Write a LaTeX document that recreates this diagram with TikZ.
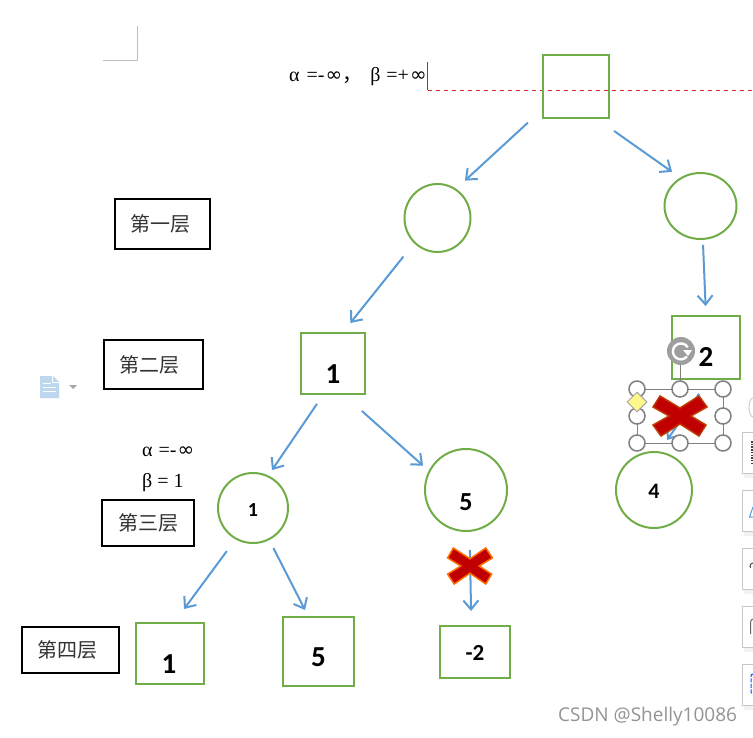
\documentclass[tikz,border=0pt]{standalone}
\usepackage{fontspec}
\setmainfont{Liberation Serif}
\newfontfamily\cjk{Noto Sans CJK SC}
\newfontfamily\numf{Carlito}[BoldFont=Carlito Bold]
\newfontfamily\wm{Open Sans}
\newfontfamily\dv{DejaVu Sans}
\usetikzlibrary{arrows.meta,shapes.geometric}
\definecolor{ngreen}{HTML}{70AD47}
\definecolor{nblue}{HTML}{5B9BD5}
\definecolor{xred}{HTML}{C00000}
\definecolor{hgray}{HTML}{808080}
\tikzset{
  sq/.style={draw=ngreen,line width=2pt,rectangle,inner sep=0pt,outer sep=0pt},
  cir/.style={draw=ngreen,line width=2pt,ellipse,inner sep=0pt,outer sep=0pt},
  lay/.style={draw=black,line width=2pt,rectangle,inner sep=0pt,outer sep=0pt,text=black!80,font=\cjk\fontsize{20}{20}\selectfont},
  arr/.style={draw=nblue,line width=2pt,-{Straight Barb[length=9pt,width=15pt,line width=2pt]}},
  handle/.style={draw=hgray,line width=1.5pt,fill=white,circle,minimum size=16pt,inner sep=0pt,outer sep=0pt},
  tool/.style={draw=black!22,line width=1pt,fill=white},
  mathtxt/.style={font=\fontsize{20}{20}\selectfont,inner sep=0pt,anchor=west},
  num/.style={font=\numf\bfseries\fontsize{#1}{#1}\selectfont,inner sep=0pt}
}
\newcommand{\infy}{{\dv ∞}}
\newcommand{\bigx}[5]{%
  \fill[xred,draw=#5,line width=1.5pt,shift={(#1,#2)},xscale=#3,yscale=#4]
   (-27,-9)--(-20,-20)--(0,-8)--(19,-20)--(27,-9)--(11,0)--(26,9)--(19,20)--(0,8)--(-19,20)--(-27,9)--(-11,0)--cycle;}
\begin{document}
\begin{tikzpicture}[x=1pt,y=-1pt]
\useasboundingbox (0,0) rectangle (753,738);
\fill[white] (0,0) rectangle (753,738);
% page corner and cursor
\draw[black!25,line width=1pt] (103,60.5)--(137.5,60.5)--(137.5,26);
\draw[red!70!black!85,line width=1pt] (427.5,62)--(427.5,90.5);
\draw[red!80!black!85,line width=1pt,dash pattern=on 4pt off 4pt] (428,90.5)--(753,90.5);
% text
\node[mathtxt] (t1) at (289,77) {α\hspace{7pt}=-\hspace{1pt}\infy{\cjk ，}\hspace{8pt}β\hspace{6pt}=+\hspace{1pt}\infy};
\node[mathtxt] (t2) at (142,452) {α\hspace{6pt}=-\hspace{1pt}\infy};
\node[mathtxt] (t3) at (142,483) {β = 1};
% tree nodes
\node[sq,minimum width=66pt,minimum height=63pt] (root) at (576,86.5) {};
\node[cir,minimum width=66pt,minimum height=68pt] (c1) at (437.5,218) {};
\node[cir,minimum width=72pt,minimum height=66pt] (c2) at (700.5,206) {};
\node[sq,minimum width=64pt,minimum height=61pt,label={[num=29,yshift=-10.5pt]center:1}] (r1) at (333,363.5) {};
\node[sq,minimum width=68pt,minimum height=63pt,label={[num=29,yshift=-9.5pt]center:2}] (r2) at (706,347.5) {};
\node[cir,minimum width=70pt,minimum height=70pt,label={[num=20,yshift=-2pt]center:1}] (c3) at (253,508) {};
\node[cir,minimum width=82pt,minimum height=82pt,label={[num=26,yshift=-12pt]center:5}] (c5) at (466,490) {};
\node[cir,minimum width=76pt,minimum height=76pt,label={[num=22,yshift=-1.5pt]center:4}] (c4) at (654,490) {};
\node[sq,minimum width=68pt,minimum height=61pt,label={[num=29,xshift=-1pt,yshift=-10.5pt]center:1}] (s1) at (170,653.5) {};
\node[sq,minimum width=71pt,minimum height=69pt,label={[num=29,yshift=-5.5pt]center:5}] (s2) at (318.5,651.5) {};
\node[sq,minimum width=70pt,minimum height=52pt,label={[num=23,yshift=-1pt]center:-2}] (s3) at (475,652) {};
% layer labels
\node[lay,minimum width=95pt,minimum height=50pt] (l1) at (162.5,224) {第一层\hspace*{5pt}};
\node[lay,minimum width=99pt,minimum height=49pt] (l2) at (153.5,364.5) {第二层\hspace*{8pt}};
\node[lay,minimum width=92pt,minimum height=46pt] (l3) at (148,523) {第三层};
\node[lay,minimum width=97pt,minimum height=46pt] (l4) at (70.5,650) {第四层\hspace*{6pt}};
% connectors
\draw[arr,shorten <=20.5pt,shorten >=13pt] (root.214) -- (c1.58);
\draw[arr,shorten <=22.5pt,shorten >=11pt] (root.-58) -- (c2.125);
\draw[arr,shorten <=18pt,shorten >=12.8pt] (c1.227) -- (r1.73.6);
\draw[arr,shorten <=6pt,shorten >=10pt] (c2.-86) -- (r2.90);
\draw[arr,shorten <=12pt,shorten >=7.5pt] (r1.253) -- (c3.65);
\draw[arr,shorten <=25.4pt,shorten >=8.5pt] (r1.-72) -- (c5.153.6);
\draw[arr,shorten <=15.5pt,shorten >=17.4pt] (c3.241) -- (s1.83);
\draw[arr,shorten <=10pt,shorten >=7.9pt] (c3.-63.7) -- (s2.106);
\draw[arr,shorten <=19pt,shorten >=15pt] (c5.-85) -- (s3.98);
\draw[arr,shorten <=18pt,shorten >=15pt] (r2.-84.6) -- (c4.83);
% crosses
\bigx{470}{566}{.83}{.9}{orange!85!red}
% selection frame
\draw[hgray,line width=1pt] (637,389) rectangle (723,443);
\draw[hgray,line width=1pt] (680,365)--(680,389);
\bigx{680}{416}{1}{1}{orange!60!red!75!black}
\foreach \n/\x/\y in {a/637/389,b/680/389,c/723/389,d/637/416,e/723/416,f/637/443,g/680/443,h/723/443}
  \node[handle] (h\n) at (\x,\y) {};
\node[diamond,draw=hgray!70,fill=yellow!45,line width=1pt,minimum width=20pt,minimum height=20pt,inner sep=0pt] (dm) at (637,402) {};
\fill[black!38] (681,351) circle (14);
\draw[white,line width=2.4pt] (687,356.5) arc (40:330:8);
\fill[white] (683,350)--(692,350)--(688,356)--cycle;
% document icon
\fill[nblue!40] (40,376) -- (53,376) -- (59,382) -- (59,398) -- (40,398) -- cycle;
\draw[white,line width=1pt] (43,383)--(51,383) (43,387)--(56,387) (43,391)--(56,391) (52,376)--(52,382)--(59,382);
\fill[black!35] (69,385)--(77,385)--(73,389)--cycle;
% right tool strip
\draw[black!20,line width=1pt] (753,398) arc (90:270:4pt and 9.5pt);
\foreach \n/\y in {1/432,2/490,3/548,4/606,5/664}{
  \fill[black!5] (744,\y+4) rectangle (753,\y+46);
  \draw[tool] (753,\y) -- (742.5,\y) -- (742.5,\y+41) -- (753,\y+41);
}
\draw[black!75,line width=1.2pt,dash pattern=on 1.5pt off 1.2pt] (752,441)--(752,464);
\draw[nblue,line width=1pt] (753,507)--(749.5,517)--(753,517);
\draw[black!70,line width=1pt] (753,563) arc (90:220:3pt);
\draw[black!60,line width=1pt] (750.5,634)--(750.5,622) arc (180:90:3pt);
\draw[blue!70!cyan,line width=1pt,dash pattern=on 4pt off 1.5pt] (753,674) arc (90:180:2pt) -- (751,692) arc (180:270:2pt);
% watermark
\node[font=\wm\fontsize{19}{19}\selectfont,text=black!42,inner sep=0pt,anchor=west] (wm) at (558,717) {CSDN @Shelly10086};
\end{tikzpicture}
\end{document}
